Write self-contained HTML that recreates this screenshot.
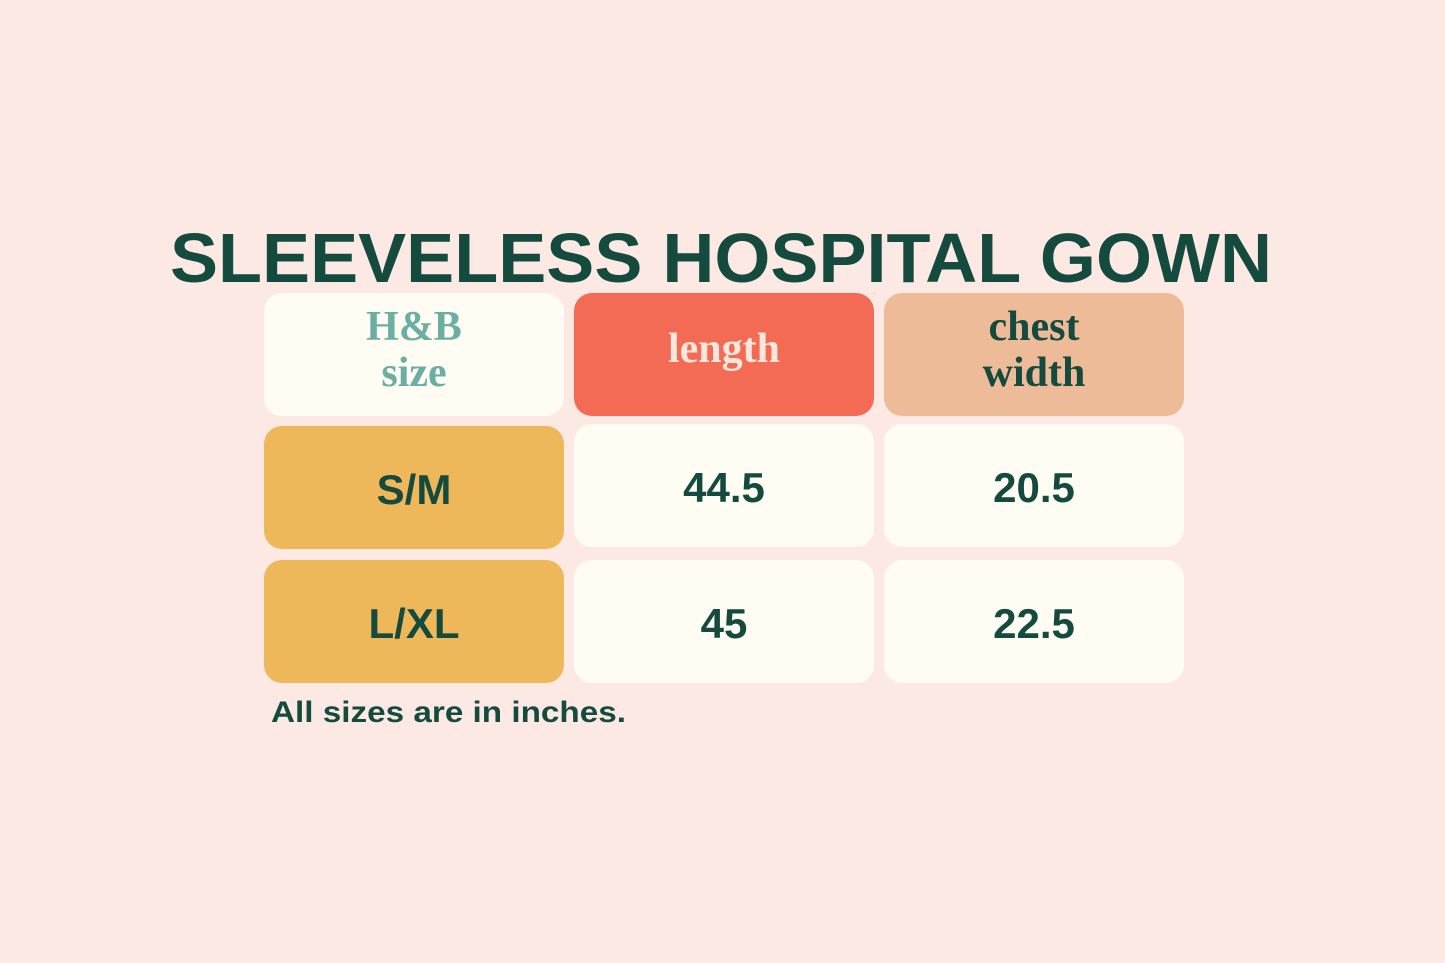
<!DOCTYPE html>
<html><head><style>
html,body{margin:0;padding:0;background:#fde9e3;}
svg{display:block}
</style></head><body>
<svg width="1445" height="963" xmlns="http://www.w3.org/2000/svg">
<rect width="1445" height="963" fill="#fde9e3"/>
<text x="170" y="282" font-family="Liberation Sans, sans-serif" font-weight="bold" font-size="70" fill="#154a3e" textLength="1102" lengthAdjust="spacingAndGlyphs">SLEEVELESS HOSPITAL GOWN</text>
<rect x="264" y="293" width="300" height="123" rx="18" fill="#fffdf3"/>
<rect x="574" y="293" width="300" height="123" rx="18" fill="#f36b55"/>
<rect x="884" y="293" width="300" height="123" rx="18" fill="#edbb98"/>
<rect x="264" y="426" width="300" height="123" rx="18" fill="#eeb85a"/>
<rect x="574" y="424" width="300" height="123" rx="18" fill="#fffdf3"/>
<rect x="884" y="424" width="300" height="123" rx="18" fill="#fffdf3"/>
<rect x="264" y="560" width="300" height="123" rx="18" fill="#eeb85a"/>
<rect x="574" y="560" width="300" height="123" rx="18" fill="#fffdf3"/>
<rect x="884" y="560" width="300" height="123" rx="18" fill="#fffdf3"/>
<g font-family="Liberation Serif, serif" font-weight="bold" font-size="42" text-anchor="middle">
<text x="414" y="340" fill="#6aafa1">H&amp;B</text>
<text x="414" y="386" fill="#6aafa1">size</text>
<text x="724" y="362" fill="#fde6dc">length</text>
<text x="1034" y="340" fill="#154a3e">chest</text>
<text x="1034" y="386" fill="#154a3e">width</text>
</g>
<g font-family="Liberation Sans, sans-serif" font-weight="bold" font-size="42" text-anchor="middle" fill="#154a3e">
<text x="414" y="504">S/M</text>
<text x="724" y="502">44.5</text>
<text x="1034" y="502">20.5</text>
<text x="414" y="638">L/XL</text>
<text x="724" y="638">45</text>
<text x="1034" y="638">22.5</text>
</g>
<text x="271" y="722" font-family="Liberation Sans, sans-serif" font-weight="bold" font-size="30" fill="#154a3e" textLength="355" lengthAdjust="spacingAndGlyphs">All sizes are in inches.</text>
</svg>
</body></html>
